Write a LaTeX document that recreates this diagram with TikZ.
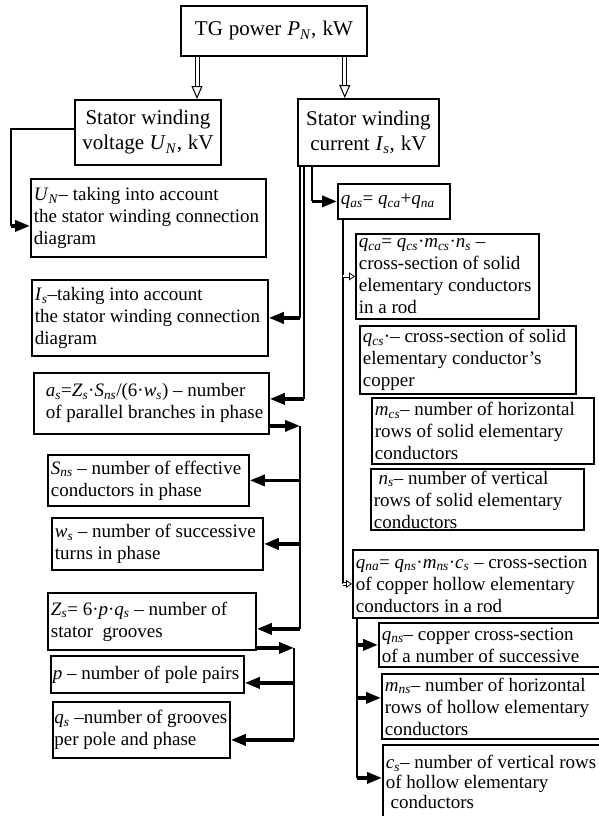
\documentclass[tikz,border=0pt]{standalone}
\usepackage{fontspec}
\setmainfont{Liberation Serif}
\usetikzlibrary{arrows.meta}
\newcommand{\isub}[2]{\textit{#1}\textsubscript{\textit{#2}}}

\begin{document}
\begin{tikzpicture}[x=1pt, y=-1pt,
    box/.style={draw, line width=1.8pt, anchor=north west, align=left, inner xsep=3pt, inner ysep=0pt, font=\fontsize{19}{22}\selectfont, execute at begin node={\spaceskip=0pt\xspaceskip=0pt}},
    head/.style={box, align=center, font=\fontsize{21}{25}\selectfont},
    wire/.style={line width=1.5pt},
    arr/.style={line width=3.5pt, -{Triangle[length=15pt,width=11pt]}},
    hollow/.style={double, double distance=3pt, line width=1pt, -{Triangle[open,length=13pt,width=11pt]}},
    hollowsmall/.style={double, double distance=2pt, line width=0.8pt, -{Triangle[open,length=6pt,width=8pt]}}]
    \useasboundingbox (0,0) rectangle (598,816);

    % Top level
    \node[head, text width=180pt, minimum height=50pt] (tg) at (180,5) {TG power \isub{P}{N}, kW};
    \node[head, text width=140pt, minimum height=65pt] (volt) at (74,99) {Stator winding\\voltage \isub{U}{N}, kV};
    \node[head, text width=135pt, minimum height=67pt] (cur) at (297,98) {Stator winding\\current \isub{I}{s}, kV};

    \draw[hollow] ([xshift=17pt]tg.south west) -- ([xshift=17pt]tg.south west |- volt.north);
    \draw[hollow] ([xshift=-23pt]tg.south east) -- ([xshift=-23pt]tg.south east |- cur.north);

    % Left branch
    \node[box, text width=229pt, minimum height=78pt] (un) at (30,178) {\isub{U}{N}-- taking into account\\the stator winding connection\\diagram};
    \node[box, text width=230pt, minimum height=76pt] (is) at (31,279) {\isub{I}{s}--taking into account\\the stator winding connection\\ diagram};
    \node[box, text width=229pt, minimum height=61pt] (as) at (33,372) {\hspace*{9pt}\isub{a}{s}=\isub{Z}{s}·\isub{S}{ns}/(6·\isub{w}{s}) -- number\\\hspace*{9pt}of parallel branches in phase};
    \node[box, text width=195pt, minimum height=51pt] (sns) at (47,454) {\isub{S}{ns} -- number of effective\\ conductors in phase};
    \node[box, text width=205pt, minimum height=52pt] (ws) at (51,517) {\isub{w}{s} -- number of successive\\turns in phase};
    \node[box, text width=202pt, minimum height=57pt] (zs) at (47,592) {\isub{Z}{s}= 6·\textit{p}·\isub{q}{s} -- number of\\ stator\ \ grooves};
    \node[box, text width=189pt, inner xsep=2pt, minimum height=37pt] (p) at (50,655) {\textit{p} -- number of pole pairs};
    \node[box, text width=174pt, inner xsep=1.5pt, minimum height=56pt] (qs) at (52,701) {\isub{q}{s} --number of grooves\\per pole and phase};

    % Right branch
    \node[box, text width=106pt, minimum height=35pt] (qas) at (337,183) {\isub{q}{as}= \isub{q}{ca}+\isub{q}{na}};
    \node[box, text width=177pt, minimum height=85pt] (qca) at (355,233) {\isub{q}{ca}= \isub{q}{cs}·\isub{m}{cs}·\isub{n}{s} --\\cross-section of solid\\elementary conductors\\ in a rod};
    \node[box, text width=210pt, minimum height=68pt] (qcs) at (359,325) {\isub{q}{cs}·-- cross-section of solid\\elementary conductor's\\copper};
    \node[box, text width=216pt, minimum height=66pt] (mcs) at (371,397) {\isub{m}{cs}-- number of horizontal\\ rows of solid elementary\\ conductors};
    \node[box, text width=207pt, minimum height=61pt] (ns) at (370,468) {\ \isub{n}{s}-- number of vertical\\rows of solid elementary\\conductors};
    \node[box, text width=239pt, minimum height=68pt] (qna) at (352,549) {\isub{q}{na}= \isub{q}{ns}·\isub{m}{ns}·\isub{c}{s} -- cross-section\\ of copper hollow elementary\\conductors in a rod};
    \node[box, text width=219pt, minimum height=44pt] (qns) at (378,622) {\isub{q}{ns}-- copper cross-section\\ of a number of successive};
    \node[box, text width=216pt, minimum height=65pt] (mns) at (381,673) {\isub{m}{ns}-- number of horizontal\\rows of hollow elementary\\conductors};
    \node[box, text width=216pt, minimum height=74pt, font=\fontsize{19}{20}\selectfont] (cs) at (382,744) {\isub{c}{s}-- number of vertical rows\\ of hollow elementary\\ \ conductors};

    % Voltage connector
    \coordinate (uL) at (11,0);
    \coordinate (unin) at ([yshift=-8pt]un.west);
    \draw[wire] ([yshift=3.5pt]volt.west) -| (uL |- unin);
    \draw[arr] (uL |- unin) -- (unin);

    % Current connectors
    \coordinate (c1) at ([xshift=3pt]cur.south west);
    \coordinate (c2) at ([xshift=7pt]cur.south west);
    \coordinate (c3) at ([xshift=15pt]cur.south west);
    \coordinate (c4) at ([xshift=-6pt]c1);
    \coordinate (asin) at ([yshift=4.5pt]as.east);
    \coordinate (asout) at ([yshift=-22.5pt]as.east);
    \coordinate (zsin) at ([yshift=-7.5pt]zs.east);
    \coordinate (zsout) at ([yshift=-26.5pt]zs.east);
    \coordinate (pin) at ([yshift=-8.5pt]p.east);
    \coordinate (qsin) at ([yshift=-10pt]qs.east);

    \draw[wire] (c1) -- (c1 |- is.east);
    \draw[arr] (c1 |- is.east) -- (is.east);
    \draw[wire] (c2) -- (c2 |- asin);
    \draw[arr] (c2 |- asin) -- (asin);
    \draw[wire] (c3) -- (c3 |- qas.west);
    \draw[arr] (c3 |- qas.west) -- (qas.west);

    \draw[arr] (asout) -- (c1 |- asout);
    \draw[wire] (c1 |- asout) -- (c1 |- zsin);
    \draw[arr] (c1 |- sns.east) -- (sns.east);
    \draw[arr] (c1 |- ws.east) -- (ws.east);
    \draw[arr] (c1 |- zsin) -- (zsin);

    \draw[arr] (zsout) -- (c4 |- zsout);
    \draw[wire] (c4 |- zsout) -- (c4 |- qsin);
    \draw[arr] (c4 |- pin) -- (pin);
    \draw[arr] (c4 |- qsin) -- (qsin);

    % Cross-section connectors
    \coordinate (c5) at ([xshift=6pt]qas.south west);
    \coordinate (c6) at ([xshift=5pt]qna.south west);
    \coordinate (mnsin) at ([yshift=8.5pt]mns.west);
    \coordinate (csin) at ([yshift=4pt]cs.west);

    \draw[wire] (c5) -- (c5 |- qna.west);
    \draw[hollowsmall] (c5 |- qca.west) -- (qca.west);
    \draw[hollowsmall] (c5 |- qna.west) -- (qna.west);

    \draw[wire] (c6) -- (c6 |- csin);
    \draw[arr] (c6 |- qns.west) -- (qns.west);
    \draw[arr] (c6 |- mnsin) -- (mnsin);
    \draw[arr] (c6 |- csin) -- (csin);
\end{tikzpicture}
\end{document}
